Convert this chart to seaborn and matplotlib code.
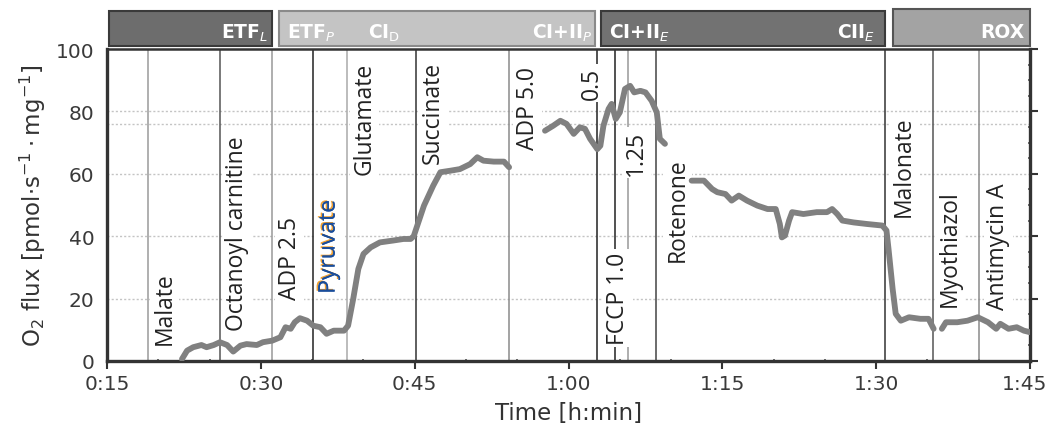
import matplotlib
matplotlib.use("Agg")
import matplotlib.pyplot as plt
import matplotlib.patheffects as pe
import matplotlib.transforms as mtransforms
from matplotlib.patches import Rectangle
from matplotlib.ticker import MultipleLocator
import pandas as pd
import seaborn as sns

# O2 flux trace (time in min, flux in pmol/s/mg)
t_seg1 = [22.3, 22.8, 23.4, 24.2, 24.7, 25.4, 26.0, 26.7, 27.3, 28.0, 28.6, 29.6, 30.2,
          31.1, 31.9, 32.4, 32.9, 33.3, 33.8, 34.5, 35.1, 35.8, 36.4, 37.1, 38.1, 38.5,
          39.0, 39.5, 40.0, 40.7, 41.6, 42.9, 43.9, 44.6, 44.9, 45.9, 46.8, 47.5, 48.5,
          49.4, 50.4, 51.1, 51.7, 52.7, 53.7, 54.2]
flux_seg1 = [0.6, 3.3, 4.4, 5.1, 4.4, 5.1, 6.0, 5.1, 3.0, 4.9, 5.4, 5.1, 6.0,
             6.5, 7.6, 10.8, 10.3, 12.4, 13.7, 12.9, 11.3, 10.8, 8.7, 9.7, 9.7, 11.3,
             19.9, 29.5, 34.3, 36.4, 38.0, 38.6, 39.1, 39.1, 40.0, 49.8, 56.2, 60.5, 61.0,
             61.5, 63.1, 65.3, 64.2, 63.9, 63.9, 62.1]
t_seg2 = [57.7, 58.5, 59.2, 59.8, 60.5, 61.1, 61.6, 62.1, 62.8, 63.1, 63.4, 63.9, 64.2,
          64.6, 65.0, 65.5, 66.0, 66.4, 67.0, 67.5, 68.1, 68.6, 68.9, 69.4]
flux_seg2 = [73.8, 75.4, 77.0, 76.0, 72.8, 74.9, 74.4, 71.2, 67.9, 69.0, 75.4, 80.8, 82.4,
             77.6, 79.7, 87.2, 88.2, 86.1, 86.6, 86.1, 83.4, 79.7, 71.2, 69.6]
t_seg3 = [72.0, 73.2, 74.0, 74.5, 75.3, 75.9, 76.6, 77.4, 78.4, 79.4, 80.2, 80.6, 80.8,
          81.1, 81.5, 81.8, 82.9, 84.2, 85.2, 85.7, 86.2, 86.7, 87.8, 89.1, 90.6, 91.0,
          91.2, 91.6, 91.9, 92.4, 93.2, 94.3, 95.1, 95.6]
flux_seg3 = [57.8, 57.8, 55.1, 54.1, 53.5, 51.4, 53.0, 51.4, 49.8, 48.7, 48.7, 43.9, 39.6,
             40.2, 45.0, 47.7, 47.1, 47.7, 47.7, 48.7, 47.1, 45.0, 44.4, 43.9, 43.4, 41.8,
             35.9, 23.1, 15.1, 12.9, 14.0, 13.5, 13.5, 10.3]
t_seg4 = [96.4, 96.8, 97.9, 98.9, 99.9, 100.9, 101.7, 102.1, 102.9, 103.7, 104.4, 105.0]
flux_seg4 = [10.3, 12.4, 12.4, 12.9, 14.0, 12.4, 10.3, 11.9, 10.3, 10.8, 9.7, 9.2]

# titrations: line time, label, label centre time, label bottom flux
event_t = [19.0, 26.0, 31.1, 35.1, 38.4, 45.1, 54.2, 62.8, 64.5, 65.8, 68.5, 90.9, 95.5, 100.0]
event_names = ["Malate", "Octanoyl carnitine", "ADP 2.5", "Pyruvate", "Glutamate", "Succinate",
               "ADP 5.0", "0.5", "FCCP 1.0", "1.25", "Rotenone", "Malonate", "Myothiazol",
               "Antimycin A"]
label_t = [20.6, 27.7, 32.8, 36.6, 40.1, 46.8, 56.0, 62.3, 64.8, 66.6, 70.6, 92.7, 97.2, 101.9]
label_y = [5.5, 10.0, 20.0, 21.5, 60.0, 63.5, 68.0, 84.0, 5.5, 59.5, 32.0, 46.5, 17.6, 16.7]
event_colors = ["#9a9a9a", "#555555", "#999999", "#222222", "#aaaaaa", "#333333", "#8a8a8a",
                "#222222", "#222222", "#999999", "#444444", "#333333", "#555555", "#8a8a8a"]

# state bars on top: start, end, fill
state_start = [15.2, 31.8, 63.2, 91.6]
state_end = [31.1, 62.6, 90.9, 105.0]
state_fill = ["#6d6d6d", "#c4c4c4", "#727272", "#a3a3a3"]
state_edge = ["#3a3a3a", "#8a8a8a", "#3a3a3a", "#555555"]
state_text = [(30.7, "ETF$_{\\mathit{L}}$", "right"), (32.5, "ETF$_{\\mathit{P}}$", "left"),
              (40.4, "CI$_{\\mathrm{D}}$", "left"), (62.3, "CI+II$_{\\mathit{P}}$", "right"),
              (63.9, "CI+II$_{\\mathit{E}}$", "left"), (89.9, "CII$_{\\mathit{E}}$", "right"),
              (104.5, "ROX", "right")]

xticks = [15, 30, 45, 60, 75, 90, 105]
xtick_labels = ["0:15", "0:30", "0:45", "1:00", "1:15", "1:30", "1:45"]
yticks = [0, 20, 40, 60, 80, 100]
grid_y = [20, 40, 60, 76, 80]

sns.set_style("white")
plt.rcParams["font.family"] = ["DejaVu Sans"]

trace = pd.concat([
    pd.DataFrame({"t": t_seg1, "flux": flux_seg1, "seg": 1}),
    pd.DataFrame({"t": t_seg2, "flux": flux_seg2, "seg": 2}),
    pd.DataFrame({"t": t_seg3, "flux": flux_seg3, "seg": 3}),
    pd.DataFrame({"t": t_seg4, "flux": flux_seg4, "seg": 4}),
])

fig = plt.figure(figsize=(10.5, 4.35), dpi=100)
ax = fig.add_axes([0.102, 0.168, 0.879, 0.717])

for g in grid_y:
    ax.axhline(g, color="#c4c4c4", lw=1.0, ls=(0, (1.5, 1.5)), zorder=1)

for x, c in zip(event_t, event_colors):
    ax.axvline(x, color=c, lw=1.1, zorder=2)

for x, y, name in zip(label_t, label_y, event_names):
    kw = {}
    color = "#222222"
    if name == "Pyruvate":
        color = "#1a4d9a"
        kw["path_effects"] = [pe.withSimplePatchShadow(offset=(-1.2, 0.6),
                                                        shadow_rgbFace="#f0a030", alpha=1.0),
                              pe.Normal()]
    ax.text(x, y, name, rotation=90, ha="center", va="bottom", fontsize=16.5,
            family="Open Sans", color=color, zorder=3,
            bbox=dict(boxstyle="square,pad=0.12", fc="white", ec="none"), **kw)

sns.lineplot(data=trace, x="t", y="flux", units="seg", estimator=None, sort=False,
             color="#808080", lw=4.2, ax=ax, zorder=4, legend=False)

# state bars above the plot
trans = ax.get_xaxis_transform()
for s, e, fc, ec in zip(state_start, state_end, state_fill, state_edge):
    top = 1.128 if s > 91 else 1.121
    ax.add_patch(Rectangle((s, 1.01), e - s, top - 1.01, transform=trans, clip_on=False,
                           fc=fc, ec=ec, lw=1.5, zorder=5))
for x, txt, ha in state_text:
    ax.text(x, 1.037, txt, transform=trans, ha=ha, va="baseline", color="white",
            fontsize=13.5, fontweight="bold", zorder=6, clip_on=False)

ax.set_xlim(15, 105)
ax.set_ylim(0, 100)
ax.set_xticks(xticks)
ax.set_xticklabels(xtick_labels)
ax.set_yticks(yticks)
ax.xaxis.set_minor_locator(MultipleLocator(5))
ax.yaxis.set_minor_locator(MultipleLocator(5))
ax.tick_params(axis="both", which="major", labelsize=14.5, colors="#333333",
               labelcolor="#3a3a3a", length=6, width=1.5, direction="out")
ax.tick_params(axis="both", which="minor", length=3, width=1.2, colors="#555555",
               direction="inout")
ax.tick_params(axis="y", which="both", right=True)
ax.tick_params(axis="x", which="both", bottom=True)
ax.tick_params(axis="y", which="major", pad=3)
# keep the last time label inside the figure
last = ax.get_xticklabels()[-1]
last.set_transform(last.get_transform() + mtransforms.ScaledTranslation(-6 / 100, 0, fig.dpi_scale_trans))
for side in ["left", "bottom", "right", "top"]:
    ax.spines[side].set_visible(True)
    ax.spines[side].set_color("#333333")
    ax.spines[side].set_linewidth(2.4)
ax.spines["top"].set_linewidth(1.8)

ax.set_xlabel("Time [h:min]", fontsize=16.5, color="#333333", labelpad=6)
ax.set_ylabel("O$_2$ flux [pmol$\\cdot$s$^{-1}\\cdot$mg$^{-1}$]", fontsize=16.5,
              color="#333333", labelpad=6)

fig.savefig("out.png", dpi=100)
